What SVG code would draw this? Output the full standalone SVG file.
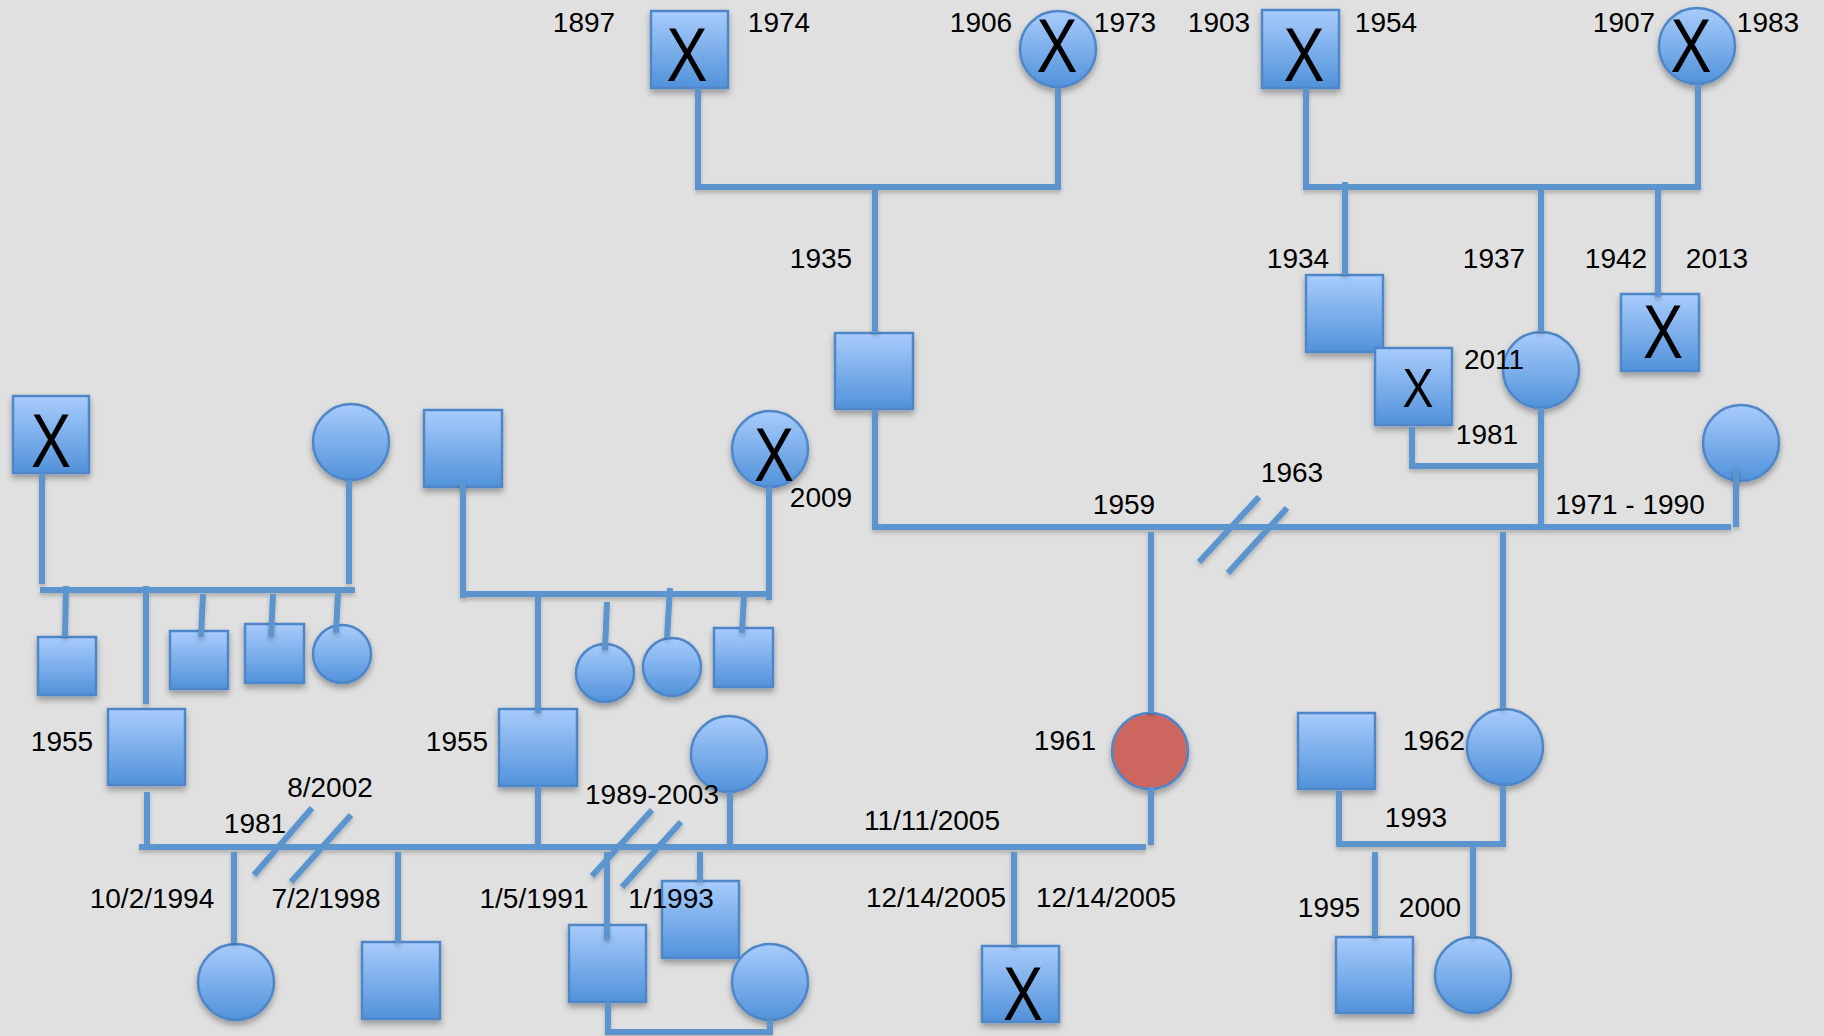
<svg xmlns="http://www.w3.org/2000/svg" width="1824" height="1036" viewBox="0 0 1824 1036">
  <defs>
    <linearGradient id="fillBlue" x1="0" y1="0" x2="0" y2="1">
      <stop offset="0" stop-color="#A8CCFC"/>
      <stop offset="1" stop-color="#5192DA"/>
    </linearGradient>
    <filter id="shade" x="-20%" y="-20%" width="140%" height="150%">
      <feDropShadow dx="0" dy="4" stdDeviation="3" flood-color="#000" flood-opacity="0.32"/>
    </filter>
    <filter id="lineShade" x="-5%" y="-5%" width="110%" height="110%">
      <feDropShadow dx="0" dy="3" stdDeviation="2" flood-color="#000" flood-opacity="0.22"/>
    </filter>
  </defs>
  <style>
    .bg { fill: #E0E0E0; }
    .nd { fill: url(#fillBlue); stroke: #4F86C8; stroke-width: 2.5; }
    .affected { fill: #CD665F; stroke: #4F86C8; stroke-width: 2.5; }
    .ln { fill: none; stroke: #5B95CE; stroke-width: 6; stroke-linecap: butt; stroke-linejoin: miter; }
    .t { font-family: "Liberation Sans", Arial, sans-serif; font-size: 28px; fill: #000; text-anchor: middle; }
    .x { font-family: "Liberation Sans", Arial, sans-serif; font-size: 76px; fill: #000; text-anchor: middle; }
    .xs { font-family: "Liberation Sans", Arial, sans-serif; font-size: 56px; fill: #000; text-anchor: middle; }
  </style>

  <rect class="bg" x="0" y="0" width="1824" height="1036"/>

  <!-- individuals -->
  <g id="nodes" filter="url(#shade)">
    <!-- grandparents, paternal side -->
    <g id="gp1"><rect class="nd" x="651" y="11" width="77" height="77"/><text class="x" x="687" y="81" textLength="41" lengthAdjust="spacingAndGlyphs">X</text></g>
    <g id="gp2"><circle class="nd" cx="1058" cy="49" r="38"/><text class="x" x="1057" y="72" textLength="41" lengthAdjust="spacingAndGlyphs">X</text></g>
    <!-- grandparents, maternal side -->
    <g id="gp3"><rect class="nd" x="1262" y="10" width="77" height="78"/><text class="x" x="1304" y="81" textLength="41" lengthAdjust="spacingAndGlyphs">X</text></g>
    <g id="gp4"><circle class="nd" cx="1697" cy="46" r="38"/><text class="x" x="1691" y="72" textLength="41" lengthAdjust="spacingAndGlyphs">X</text></g>

    <!-- parents' generation -->
    <g id="father"><rect class="nd" x="835" y="333" width="78" height="76"/></g>
    <g id="uncle1934"><rect class="nd" x="1306" y="275" width="77" height="77"/></g>
    <g id="uncle1981"><rect class="nd" x="1375" y="348" width="77" height="77"/><text class="xs" x="1418" y="407" textLength="31" lengthAdjust="spacingAndGlyphs">X</text></g>
    <g id="mother"><circle class="nd" cx="1541" cy="370" r="38"/></g>
    <g id="uncle1942"><rect class="nd" x="1621" y="294" width="78" height="77"/><text class="x" x="1663" y="358" textLength="40" lengthAdjust="spacingAndGlyphs">X</text></g>
    <g id="stepmother"><circle class="nd" cx="1741" cy="443" r="38"/></g>

    <!-- left family, first couple -->
    <g id="lf1"><rect class="nd" x="13" y="396" width="76" height="77"/><text class="x" x="51" y="467" textLength="40" lengthAdjust="spacingAndGlyphs">X</text></g>
    <g id="lm1"><circle class="nd" cx="351" cy="442" r="38"/></g>
    <g id="lc1"><rect class="nd" x="38" y="637" width="58" height="58"/></g>
    <g id="lc2"><rect class="nd" x="108" y="709" width="77" height="76"/></g>
    <g id="lc3"><rect class="nd" x="170" y="631" width="58" height="58"/></g>
    <g id="lc4"><rect class="nd" x="245" y="624" width="59" height="59"/></g>
    <g id="lc5"><circle class="nd" cx="342" cy="654" r="29"/></g>

    <!-- left family, second couple -->
    <g id="lf2"><rect class="nd" x="424" y="410" width="78" height="77"/></g>
    <g id="lm2"><circle class="nd" cx="770" cy="449" r="38"/><text class="x" x="774" y="481" textLength="40" lengthAdjust="spacingAndGlyphs">X</text></g>
    <g id="lc6"><rect class="nd" x="499" y="709" width="78" height="77"/></g>
    <g id="lc7"><circle class="nd" cx="605" cy="673" r="29"/></g>
    <g id="lc8"><circle class="nd" cx="672" cy="667" r="29"/></g>
    <g id="lc9"><rect class="nd" x="714" y="628" width="59" height="59"/></g>
    <g id="partner1989"><circle class="nd" cx="729" cy="754" r="38"/></g>

    <!-- proband and sibling -->
    <g id="proband"><circle class="affected" cx="1150" cy="751" r="38"/></g>
    <g id="sisterPartner"><rect class="nd" x="1298" y="713" width="77" height="76"/></g>
    <g id="sister"><circle class="nd" cx="1505" cy="747" r="38"/></g>

    <!-- youngest generation -->
    <g id="k1"><circle class="nd" cx="236" cy="982" r="38"/></g>
    <g id="k2"><rect class="nd" x="362" y="942" width="78" height="77"/></g>
    <g id="k3"><rect class="nd" x="569" y="925" width="77" height="77"/></g>
    <g id="k4"><rect class="nd" x="662" y="881" width="77" height="77"/></g>
    <g id="k5"><circle class="nd" cx="770" cy="982" r="38"/></g>
    <g id="k6"><rect class="nd" x="982" y="946" width="77" height="76"/><text class="x" x="1023" y="1020" textLength="40" lengthAdjust="spacingAndGlyphs">X</text></g>
    <g id="k7"><rect class="nd" x="1336" y="937" width="77" height="76"/></g>
    <g id="k8"><circle class="nd" cx="1473" cy="975" r="38"/></g>
  </g>

  <!-- lines of descent and partnership -->
  <g id="connectors" class="ln" filter="url(#lineShade)">
    <!-- paternal grandparents -->
    <path d="M698,88 V187 H1058 V88"/>
    <path d="M875,187 V333"/>
    <!-- maternal grandparents -->
    <path d="M1306,88 V187 H1698 V84"/>
    <path d="M1345,182 V275"/>
    <path d="M1541,187 V332"/>
    <path d="M1658,187 V297"/>
    <path d="M1412,427 V466 H1541"/>
    <!-- parents' partnership line -->
    <path d="M875,409 V527 H1731"/>
    <path d="M1541,408 V530"/>
    <path d="M1736,467 V527"/>
    <path d="M1259,497 L1199,562"/>
    <path d="M1287,508 L1228,573"/>
    <path d="M1151,532 V713"/>
    <path d="M1503,532 V709"/>

    <!-- left family, first couple -->
    <path d="M42,473 V584"/>
    <path d="M349,480 V584"/>
    <path d="M40,590 H355"/>
    <path d="M66,586 L65,637"/>
    <path d="M146,586 V704"/>
    <path d="M203,594 L201,637"/>
    <path d="M273,594 L271,637"/>
    <path d="M338,593 L336,633"/>

    <!-- left family, second couple -->
    <path d="M463,482 V598"/>
    <path d="M769,487 V600"/>
    <path d="M460,594 H772"/>
    <path d="M538,597 V713"/>
    <path d="M607,602 L605,650"/>
    <path d="M670,588 L667,638"/>
    <path d="M744,595 L742,633"/>

    <!-- proband's partnerships -->
    <path d="M139,847 H1146"/>
    <path d="M147,792 V850"/>
    <path d="M538,786 V847"/>
    <path d="M730,792 V847"/>
    <path d="M1151,787 V845"/>
    <path d="M312,808 L254,875"/>
    <path d="M351,815 L291,882"/>
    <path d="M652,810 L592,876"/>
    <path d="M681,822 L622,887"/>
    <path d="M234,852 V943"/>
    <path d="M398,852 V943"/>
    <path d="M607,852 V940"/>
    <path d="M700,852 V882"/>
    <path d="M608,1002 V1032 H770 V1020"/>
    <path d="M1014,852 V946"/>

    <!-- sibling's partnership -->
    <path d="M1339,791 V844 H1503 V786"/>
    <path d="M1375,852 V937"/>
    <path d="M1473,847 V937"/>
  </g>

  <!-- dates -->
  <g id="labels">
    <text class="t" x="584" y="32">1897</text>
    <text class="t" x="779" y="32">1974</text>
    <text class="t" x="981" y="32">1906</text>
    <text class="t" x="1125" y="32">1973</text>
    <text class="t" x="1219" y="32">1903</text>
    <text class="t" x="1386" y="32">1954</text>
    <text class="t" x="1624" y="32">1907</text>
    <text class="t" x="1768" y="32">1983</text>

    <text class="t" x="821" y="268">1935</text>
    <text class="t" x="1298" y="268">1934</text>
    <text class="t" x="1494" y="268">1937</text>
    <text class="t" x="1616" y="268">1942</text>
    <text class="t" x="1717" y="268">2013</text>
    <text class="t" x="1494" y="369">2011</text>
    <text class="t" x="1487" y="444">1981</text>
    <text class="t" x="1292" y="482">1963</text>
    <text class="t" x="821" y="507">2009</text>
    <text class="t" x="1124" y="514">1959</text>
    <text class="t" x="1630" y="514">1971 - 1990</text>

    <text class="t" x="62" y="751">1955</text>
    <text class="t" x="457" y="751">1955</text>
    <text class="t" x="1065" y="750">1961</text>
    <text class="t" x="1434" y="750">1962</text>
    <text class="t" x="330" y="797">8/2002</text>
    <text class="t" x="652" y="804">1989-2003</text>
    <text class="t" x="255" y="833">1981</text>
    <text class="t" x="932" y="830">11/11/2005</text>
    <text class="t" x="1416" y="827">1993</text>

    <text class="t" x="152" y="908">10/2/1994</text>
    <text class="t" x="326" y="908">7/2/1998</text>
    <text class="t" x="534" y="908">1/5/1991</text>
    <text class="t" x="671" y="908">1/1993</text>
    <text class="t" x="936" y="907">12/14/2005</text>
    <text class="t" x="1106" y="907">12/14/2005</text>
    <text class="t" x="1329" y="917">1995</text>
    <text class="t" x="1430" y="917">2000</text>
  </g>
</svg>
